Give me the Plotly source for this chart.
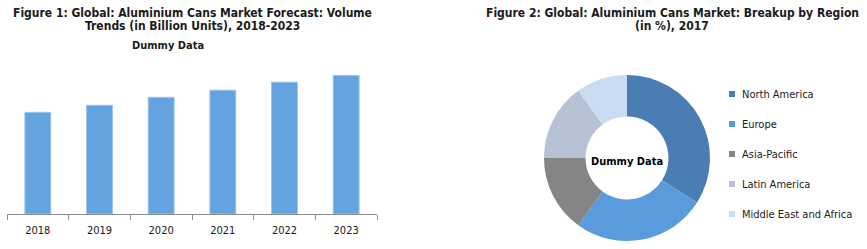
import plotly.graph_objects as go

W, H = 867, 249

years = ["2018", "2019", "2020", "2021", "2022", "2023"]
volumes = [330, 353, 379, 402, 428, 450]

regions = ["North America", "Europe", "Asia-Pacific", "Latin America", "Middle East and Africa"]
shares = [34, 26, 15, 15, 10]
region_colors = ["#4a7db4", "#5a9bdb", "#858585", "#b6c1d4", "#cadcf4"]

title1_lines = ["Figure 1: Global: Aluminium Cans Market Forecast: Volume",
                "Trends (in Billion Units), 2018-2023"]
title2_lines = ["Figure 2: Global: Aluminium Cans Market: Breakup by Region",
                "(in %), 2017"]
subtitle1 = "Dummy Data"
center_text = "Dummy Data"

FONT = "DejaVu Sans Condensed, DejaVu Sans, sans-serif"


def px_x(x):
    return x / W


def px_y(y):
    return 1 - y / H


fig = go.Figure()

fig.add_trace(go.Bar(
    x=years, y=volumes,
    marker=dict(color="#63a3df", line=dict(color="#9cc4ec", width=1)),
    showlegend=False, hoverinfo="x+y",
))

fig.add_trace(go.Pie(
    labels=regions, values=shares, hole=0.5, sort=False, direction="clockwise",
    rotation=0, marker=dict(colors=region_colors, line=dict(width=0)),
    textinfo="none", showlegend=False,
    domain=dict(x=[px_x(544), px_x(710)], y=[px_y(241), px_y(75)]),
))

annotations = []
title_font = dict(family=FONT, size=12, color="#1a1a1a", weight="bold")
for cx, lines in ((192, title1_lines), (672, title2_lines)):
    for j, line in enumerate(lines):
        annotations.append(dict(text=line, x=px_x(cx), y=px_y(13 + 13 * j), xref="paper", yref="paper",
                                showarrow=False, font=title_font, xanchor="center", yanchor="middle"))

annotations += [
    dict(text=subtitle1, x=px_x(168), y=px_y(46), xref="paper", yref="paper",
         showarrow=False, font=dict(family=FONT, size=11, color="#1a1a1a", weight="bold"),
         xanchor="center", yanchor="middle"),
    dict(text=center_text, x=px_x(627), y=px_y(161), xref="paper", yref="paper",
         showarrow=False, font=dict(family=FONT, size=11, color="#000000", weight="bold"),
         xanchor="center", yanchor="middle"),
]

shapes = []
for i, (name, col) in enumerate(zip(regions, region_colors)):
    yc = 94 + 30 * i
    shapes.append(dict(type="rect", xref="paper", yref="paper",
                       x0=px_x(729), x1=px_x(735), y0=px_y(yc + 3), y1=px_y(yc - 3),
                       fillcolor=col, line=dict(width=0)))
    annotations.append(dict(text=name, x=px_x(740), y=px_y(yc), xref="paper", yref="paper",
                            showarrow=False, xanchor="left", yanchor="middle",
                            font=dict(family=FONT, size=11, color="#1a1a1a")))

fig.update_layout(
    width=W, height=H,
    margin=dict(l=0, r=0, t=0, b=0),
    paper_bgcolor="white", plot_bgcolor="white",
    bargap=0.58,
    xaxis=dict(domain=[px_x(7), px_x(377)], showline=True, linecolor="#8c8c8c", linewidth=1,
               ticks="outside", tickson="boundaries", ticklen=5, tickcolor="#8c8c8c",
               ticklabelstandoff=6,
               showgrid=False, tickfont=dict(family=FONT, size=11, color="#1a1a1a"),
               anchor="y"),
    yaxis=dict(domain=[px_y(214), px_y(60)], range=[0, 500], visible=False, showgrid=False),
    annotations=annotations, shapes=shapes,
    font=dict(family=FONT),
)

fig.write_html("out.html")
